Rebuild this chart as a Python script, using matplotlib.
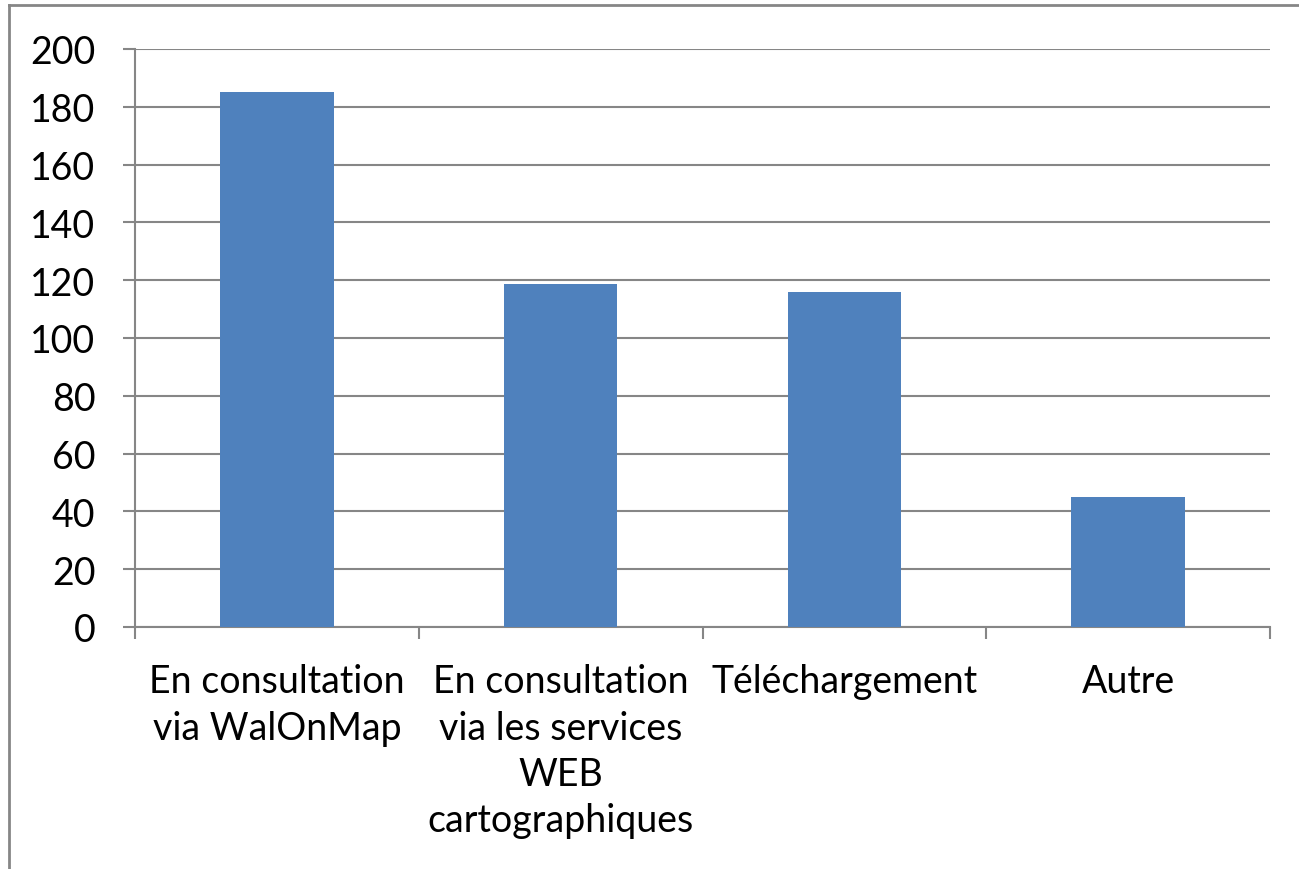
import matplotlib
matplotlib.use("Agg")
import matplotlib.pyplot as plt
from matplotlib.lines import Line2D

categories = ["En consultation\nvia WalOnMap",
              "En consultation\nvia les services\nWEB\ncartographiques",
              "Téléchargement",
              "Autre"]
values = [185, 118.7, 116, 45]
yticks = [0, 20, 40, 60, 80, 100, 120, 140, 160, 180, 200]

plt.rcParams['font.family'] = ['Lato', 'DejaVu Sans']
grey = "#868686"

fig = plt.figure(figsize=(12.99, 8.70), dpi=100)
W, H = 1299, 870
ax = fig.add_axes([135 / W, (H - 628) / H, (1270 - 135) / W, (628 - 50) / H])

x = list(range(len(categories)))
ax.bar(x, values, width=0.4, color="#4F81BD", zorder=3)
ax.set_xlim(-0.5, len(categories) - 0.5)
ax.set_ylim(0, 200)
ax.set_yticks(yticks)
ax.set_yticklabels([str(v) for v in yticks])
ax.yaxis.grid(True, color=grey, linewidth=1.5, zorder=0)
ax.set_axisbelow(True)

ax.set_xticks([i - 0.5 for i in range(len(categories) + 1)])
ax.set_xticklabels([])
ax.set_xticks(x, minor=True)
ax.set_xticklabels(categories, minor=True, fontsize=27, linespacing=1.36)
ax.tick_params(axis='x', which='minor', length=0, pad=26)
ax.tick_params(axis='x', which='major', length=8.6, width=1.5, color=grey, direction='out')
ax.tick_params(axis='y', length=8.6, width=1.5, color=grey, direction='out', labelsize=27, pad=20)

for s in ['top', 'right']:
    ax.spines[s].set_visible(False)
for s in ['left', 'bottom']:
    ax.spines[s].set_color(grey)
    ax.spines[s].set_linewidth(1.5)

# outer chart border (top and left)
fig.add_artist(Line2D([9 / W, 1], [1 - 6 / H, 1 - 6 / H], color=grey, linewidth=2, transform=fig.transFigure))
fig.add_artist(Line2D([9 / W, 9 / W], [0, 1 - 6 / H], color=grey, linewidth=2, transform=fig.transFigure))

fig.savefig("out.png", dpi=100)
